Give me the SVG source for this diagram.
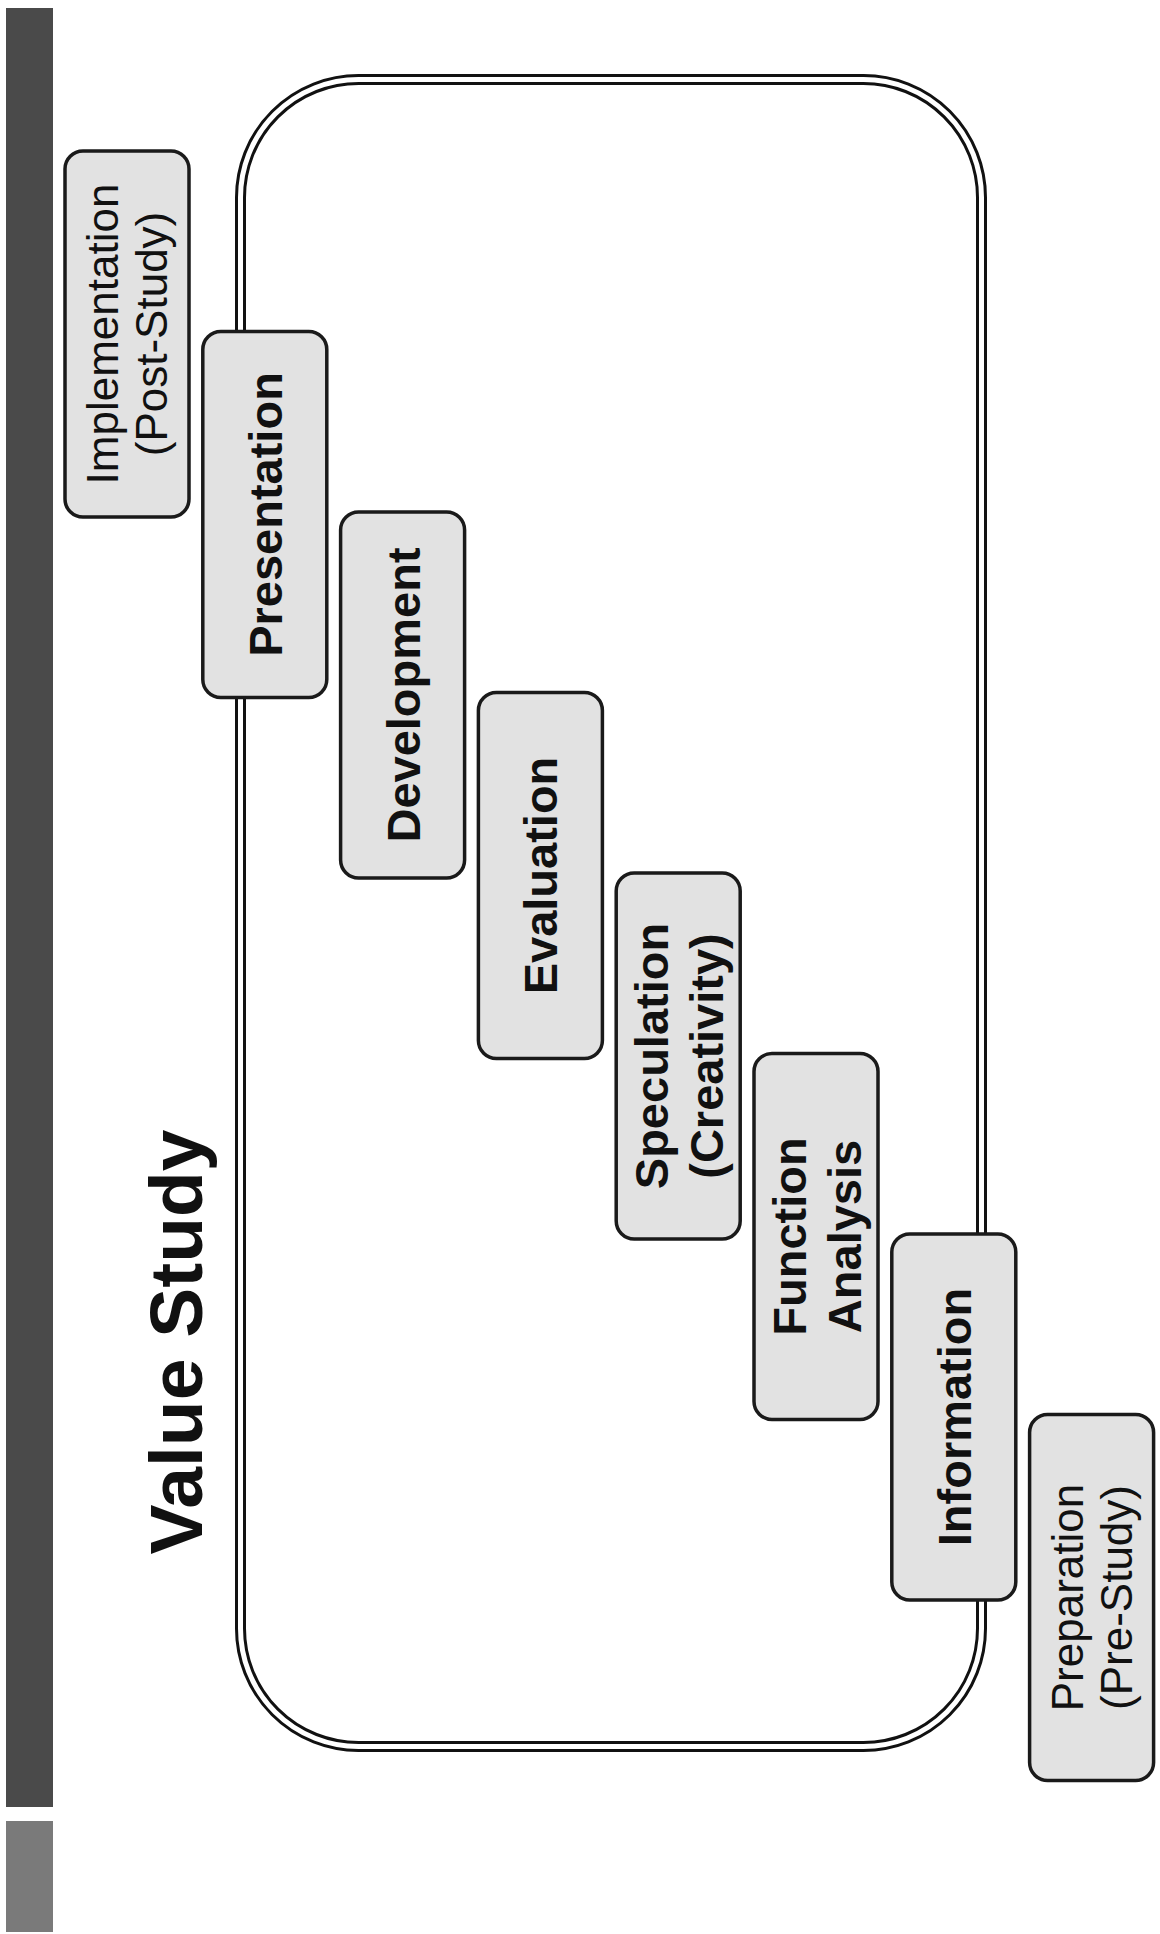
<svg xmlns="http://www.w3.org/2000/svg" width="1160" height="1934" viewBox="0 0 1160 1934">
<style>
.box{fill:#e2e2e2;stroke:#1a1a1a;stroke-width:3.5}
.b{font-family:"Liberation Sans",Arial,sans-serif;font-weight:bold;font-size:47px;fill:#111;text-anchor:middle}
.r{font-family:"Liberation Sans",Arial,sans-serif;font-size:44px;fill:#111;text-anchor:middle}
</style>
<rect width="1160" height="1934" fill="#ffffff"/>
<g id="sidebar">
<rect x="6" y="8" width="47" height="1799" fill="#4a4a4a"/>
<rect x="6" y="1821" width="47" height="111" fill="#7a7a7a"/>
</g>
<g id="value-study-frame">
<rect x="240.5" y="79.5" width="741" height="1667" rx="118" fill="none" stroke="#111" stroke-width="11"/>
<rect x="240.5" y="79.5" width="741" height="1667" rx="118" fill="none" stroke="#fff" stroke-width="5"/>
<text class="b" style="font-size:75px" transform="translate(202,1342) rotate(-90)" x="0" y="0">Value Study</text>
</g>
<g id="connectors"></g>
<g id="implementation">
<rect class="box" x="65" y="151" width="124" height="366" rx="18"/>
<text class="r" transform="translate(127,334) rotate(-90)"><tspan x="0" y="-9">Implementation</tspan><tspan x="0" y="40">(Post-Study)</tspan></text>
</g>
<g id="presentation">
<rect class="box" x="202.8" y="331.5" width="124" height="366" rx="18"/>
<text class="b" transform="translate(264.8,514.5) rotate(-90)" x="0" y="17">Presentation</text>
</g>
<g id="development">
<rect class="box" x="340.6" y="512" width="124" height="366" rx="18"/>
<text class="b" transform="translate(402.6,695) rotate(-90)" x="0" y="17">Development</text>
</g>
<g id="evaluation">
<rect class="box" x="478.4" y="692.5" width="124" height="366" rx="18"/>
<text class="b" transform="translate(540.4,875.5) rotate(-90)" x="0" y="17">Evaluation</text>
</g>
<g id="speculation">
<rect class="box" x="616.2" y="873" width="124" height="366" rx="18"/>
<text class="b" transform="translate(678.2,1056) rotate(-90)"><tspan x="0" y="-10">Speculation</tspan><tspan x="0" y="45">(Creativity)</tspan></text>
</g>
<g id="function-analysis">
<rect class="box" x="754" y="1053.5" width="124" height="366" rx="18"/>
<text class="b" transform="translate(816,1236.5) rotate(-90)"><tspan x="0" y="-10">Function</tspan><tspan x="0" y="45">Analysis</tspan></text>
</g>
<g id="information">
<rect class="box" x="891.8" y="1234" width="124" height="366" rx="18"/>
<text class="b" transform="translate(953.8,1417) rotate(-90)" x="0" y="17">Information</text>
</g>
<g id="preparation">
<rect class="box" x="1029.6" y="1414.5" width="124" height="366" rx="18"/>
<text class="r" transform="translate(1091.6,1597.5) rotate(-90)"><tspan x="0" y="-9">Preparation</tspan><tspan x="0" y="40">(Pre-Study)</tspan></text>
</g>
</svg>
